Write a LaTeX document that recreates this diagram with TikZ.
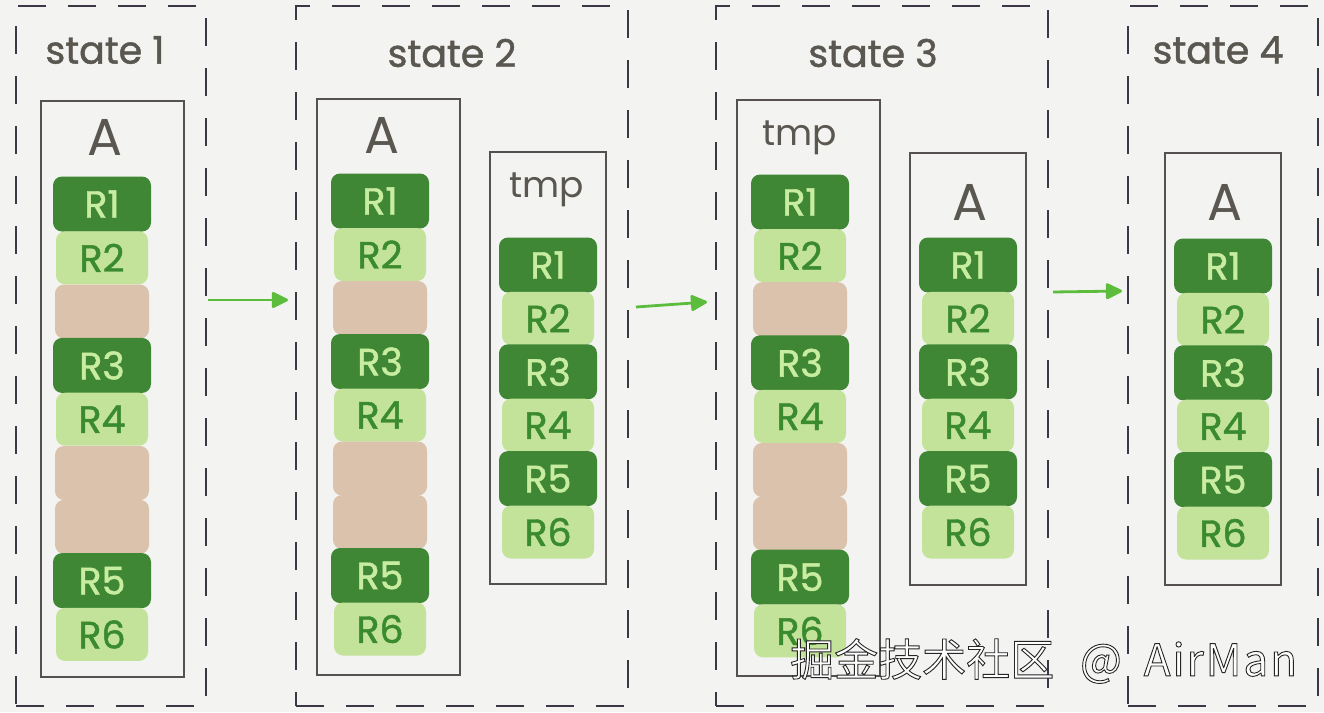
\documentclass[tikz,border=0pt]{standalone}
\usepackage{fontspec}
\setmainfont{Poppins}
\newfontfamily\hand{Poppins}[FakeBold=1.2]
\newfontfamily\cjk{Noto Sans CJK SC}
\usetikzlibrary{arrows.meta}
\definecolor{bgc}{HTML}{F3F3F1}
\definecolor{dashcol}{HTML}{3D3645}
\definecolor{boxcol}{HTML}{55514F}
\definecolor{titlecol}{HTML}{5A5650}
\definecolor{dg}{HTML}{3F8735}
\definecolor{lg}{HTML}{C3E39A}
\definecolor{dgt}{HTML}{3A8A2E}
\definecolor{lgt}{HTML}{C8ECA0}
\definecolor{tanc}{HTML}{DBC2AC}
\definecolor{ag}{HTML}{5CBD3C}
\newcommand\blockstack[5]{%
  \foreach \s/\l [count=\i] in {#5} {
    \node[\s] (#1-\i) at (#2, {#3+(\i-1)*#4}) {\l};
  }%
}
\begin{document}
\begin{tikzpicture}[x=1pt,y=-1pt,
  frame/.style={draw=dashcol, line width=1.4pt, dash pattern=on 28pt off 22pt, minimum height=700pt, inner sep=0pt},
  tbox/.style={draw=boxcol, line width=1.6pt, inner sep=0pt},
  title/.style={text=titlecol, font=\hand\fontsize{38}{38}\selectfont},
  hdrA/.style={text=titlecol, font=\fontsize{52}{52}\selectfont},
  hdrT/.style={text=titlecol, font=\fontsize{36}{36}\selectfont},
  blk/.style={rounded corners=9pt, inner sep=0pt, font=\hand\fontsize{38}{38}\selectfont},
  blkd/.style={blk, fill=dg, text=lgt, minimum width=98pt, minimum height=55pt},
  blkl/.style={blk, fill=lg, text=dgt, minimum width=92pt, minimum height=53pt},
  blkt/.style={blk, fill=tanc, minimum width=94pt, minimum height=54pt},
  arr/.style={draw=ag, line width=2.8pt, -{Triangle[length=18pt,width=17pt,round]}}
]
\fill[bgc] (0,0) rectangle (1324,712);
\useasboundingbox (0,0) rectangle (1324,712);

% state frames
\node[frame, minimum width=190pt] (f1) at (111,356) {};
\node[frame, minimum width=332pt] (f2) at (462,356) {};
\node[frame, minimum width=332pt] (f3) at (882,356) {};
\node[frame, minimum width=190pt] (f4) at (1223,356) {};

\node[title] (t1) at (105,50) {state 1};
\node[title] (t2) at (452,53) {state 2};
\node[title] (t3) at (873,53) {state 3};
\node[title] (t4) at (1218,50) {state 4};

% table boxes
\node[tbox, minimum width=143pt, minimum height=576pt] (b1A) at (112.5,389) {};
\node[tbox, minimum width=143pt, minimum height=576pt] (b2A) at (388.5,387) {};
\node[tbox, minimum width=116pt, minimum height=432pt] (b2T) at (548,368) {};
\node[tbox, minimum width=143pt, minimum height=576pt] (b3T) at (808.5,388) {};
\node[tbox, minimum width=116pt, minimum height=432pt] (b3A) at (968,369) {};
\node[tbox, minimum width=116pt, minimum height=432pt] (b4A) at (1223,369) {};

\node[hdrA] (h1) at (105,137) {A};
\node[hdrA] (h2) at (382,135) {A};
\node[hdrT] (h3) at (547,190) {tmp};
\node[hdrT] (h4) at (800,138) {tmp};
\node[hdrA] (h5) at (970,202) {A};
\node[hdrA] (h6) at (1225,202) {A};

% rows
\blockstack{c1}{102}{204}{53.8}{blkd/R1,blkl/R2,blkt/{},blkd/R3,blkl/R4,blkt/{},blkt/{},blkd/R5,blkl/R6}
\blockstack{c2}{380}{201}{53.5}{blkd/R1,blkl/R2,blkt/{},blkd/R3,blkl/R4,blkt/{},blkt/{},blkd/R5,blkl/R6}
\blockstack{c3}{548}{265}{53.4}{blkd/R1,blkl/R2,blkd/R3,blkl/R4,blkd/R5,blkl/R6}
\blockstack{c4}{800}{202}{53.6}{blkd/R1,blkl/R2,blkt/{},blkd/R3,blkl/R4,blkt/{},blkt/{},blkd/R5,blkl/R6}
\blockstack{c5}{968}{265}{53.4}{blkd/R1,blkl/R2,blkd/R3,blkl/R4,blkd/R5,blkl/R6}
\blockstack{c6}{1223}{266}{53.4}{blkd/R1,blkl/R2,blkd/R3,blkl/R4,blkd/R5,blkl/R6}

% arrows
\coordinate (a1s) at (208,300);
\coordinate (a1e) at (288,300);
\coordinate (a2s) at (636,307);
\coordinate (a2e) at (707,302);
\coordinate (a3s) at (1053,292);
\coordinate (a3e) at (1122,291);
\draw[arr] (a1s) -- (a1e);
\draw[arr] (a2s) -- (a2e);
\draw[arr] (a3s) -- (a3e);

% watermark
\node[anchor=west, text=white, inner sep=0pt, font=\cjk\fontsize{44}{44}\selectfont] (wm) at (790,661)
  {\special{pdf:literal 2 Tr 0.9 w 0.15 0.15 0.15 RG}掘金技术社区\hspace{26pt}@\hspace{22pt}A\hspace{2pt}i\hspace{2pt}r\hspace{2pt}M\hspace{2pt}a\hspace{2pt}n\special{pdf:literal 0 Tr}};
\end{tikzpicture}
\end{document}
